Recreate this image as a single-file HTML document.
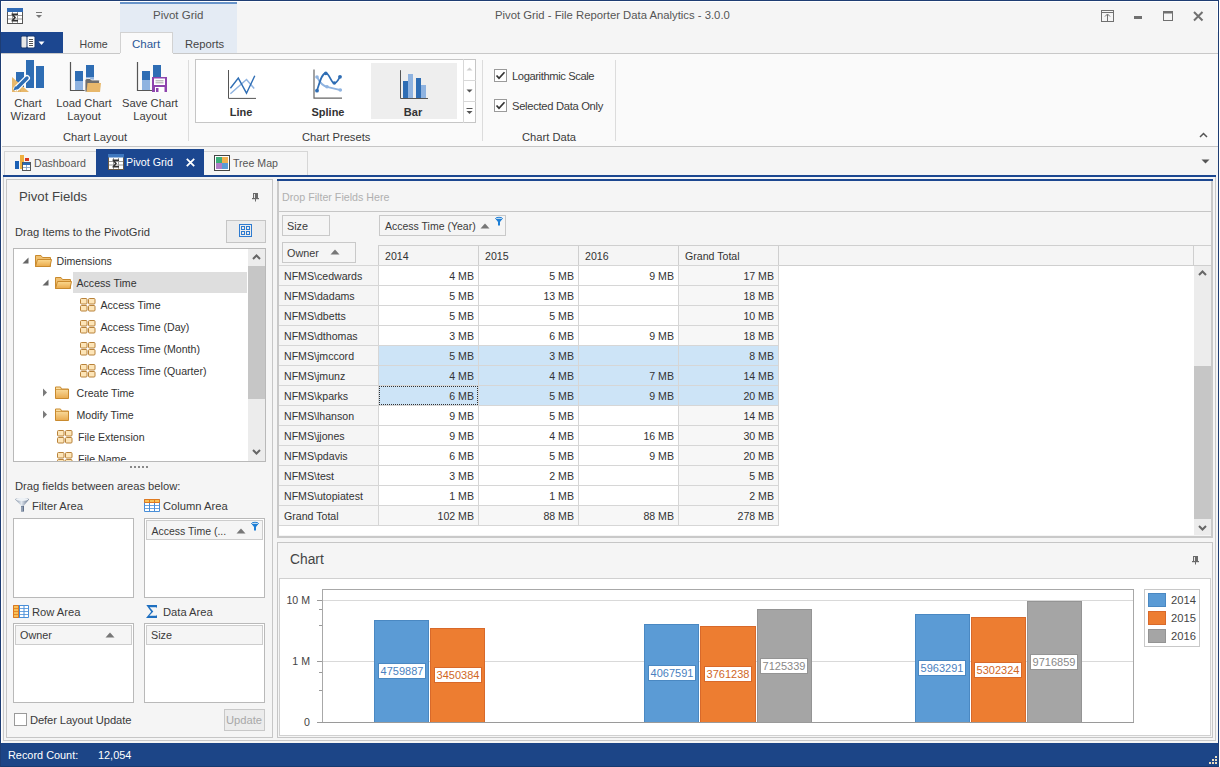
<!DOCTYPE html>
<html><head><meta charset="utf-8">
<style>
*{box-sizing:border-box;margin:0;padding:0}
html,body{width:1220px;height:767px;overflow:hidden}
body{position:relative;background:#f5f5f5;font-family:"Liberation Sans",sans-serif;font-size:11px;color:#3a3a3a}
.a{position:absolute}
.t{position:absolute;white-space:nowrap;line-height:1}
svg{position:absolute;overflow:visible}
.rc{color:#3f3f46}
.c{position:absolute;line-height:1;white-space:nowrap;text-align:center}
.cell{position:absolute;height:20px;line-height:20px;white-space:nowrap;font-size:10.2px;color:#333}
.r{text-align:right}
</style></head><body>

<!-- ===== TITLE BAR ===== -->
<div class="a" style="left:0;top:0;width:1220px;height:53px;background:#f5f5f5"></div>
<div class="a" style="left:120px;top:0;width:117px;height:53px;background:#e4ebf4"></div>
<div class="a" style="left:120px;top:1px;width:117px;height:3px;background:#6793c9"></div>
<div class="t" style="left:153px;top:10px;font-size:11.5px;color:#555">Pivot Grid</div>
<div class="t" style="left:495px;top:10px;font-size:11.3px;color:#555">Pivot Grid - File Reporter Data Analytics - 3.0.0</div>

<!-- app icon -->
<svg style="left:7px;top:8px" width="17" height="17" viewBox="0 0 17 17">
  <rect x="0.5" y="0.5" width="15" height="15" fill="#fff" stroke="#555"/>
  <rect x="0" y="0" width="16" height="4" fill="#2f6ab5"/>
  <path d="M1 7.5H15M1 11H15M5.5 4V15M10.5 4V15" stroke="#999" stroke-width="1"/>
  <path d="M4.5 5.5H11V7H7L9 9.5L7 12H11V13.5H4.5V12.5L7 9.5L4.5 6.5Z" fill="#333"/>
</svg>
<!-- qat customize -->
<svg style="left:35px;top:12px" width="8" height="7" viewBox="0 0 8 7">
  <path d="M1 0.5H7" stroke="#777" stroke-width="1"/>
  <path d="M1 3H7L4 6Z" fill="#777"/>
</svg>

<!-- window buttons -->
<svg style="left:1101px;top:10px" width="14" height="13" viewBox="0 0 14 13">
  <rect x="0.5" y="0.5" width="12" height="11" fill="none" stroke="#707070"/>
  <path d="M1 2.5H12" stroke="#707070"/>
  <path d="M6.5 4.5V11.5" stroke="#707070"/>
  <path d="M4 6.5L6.5 4L9 6.5" fill="none" stroke="#707070"/>
</svg>
<div class="a" style="left:1134px;top:16px;width:8px;height:3px;background:#707070"></div>
<svg style="left:1163px;top:11px" width="11" height="11" viewBox="0 0 11 11">
  <rect x="0.5" y="0.5" width="9" height="9" fill="none" stroke="#707070"/>
  <rect x="0" y="0" width="10" height="2.5" fill="#707070"/>
</svg>
<svg style="left:1193px;top:11px" width="11" height="11" viewBox="0 0 11 11">
  <path d="M1 1L9.5 9.5M9.5 1L1 9.5" stroke="#707070" stroke-width="2"/>
</svg>

<!-- file button -->
<div class="a" style="left:1px;top:32px;width:62px;height:21px;background:#1c4790"></div>
<svg style="left:20px;top:35px" width="26" height="15" viewBox="0 0 26 15">
  <rect x="0.5" y="0.5" width="15" height="13" rx="2" fill="#1a3a70"/>
  <rect x="1.5" y="1.5" width="5" height="11" rx="1" fill="#e8e8e8"/>
  <rect x="7.5" y="1.5" width="7" height="11" rx="1" fill="#fff"/>
  <path d="M9 4.5H13M9 6.5H13M9 8.5H13M9 10.5H13" stroke="#555" stroke-width="1"/>
  <path d="M18.5 6.5H24.5L21.5 10Z" fill="#fff"/>
</svg>

<!-- tabs -->
<div class="t" style="left:79.5px;top:39px;font-size:10.6px;color:#444">Home</div>
<div class="a" style="left:120px;top:32px;width:53px;height:22px;background:#fafafa;border:1px solid #d2d2d2;border-bottom:none"></div>
<div class="t" style="left:132px;top:39px;font-size:11.5px;color:#2b5797">Chart</div>
<div class="t" style="left:185px;top:39px;font-size:11.2px;color:#444">Reports</div>
<!-- ===== RIBBON ===== -->
<div class="a" style="left:1px;top:53px;width:1217px;height:94px;background:#fafafa;border-top:1px solid #c8c8c8;border-bottom:1px solid #c6c6c6"></div>
<div class="a" style="left:120px;top:53px;width:53px;height:1px;background:#fafafa"></div>
<div class="a" style="left:188px;top:60px;width:1px;height:81px;background:#dcdcdc"></div>
<div class="a" style="left:482px;top:60px;width:1px;height:81px;background:#dcdcdc"></div>
<div class="a" style="left:615px;top:60px;width:1px;height:81px;background:#dcdcdc"></div>

<!-- Chart Wizard icon -->
<svg style="left:11px;top:59px" width="34" height="34" viewBox="0 0 34 34">
  <rect x="5" y="13" width="8" height="15" fill="#2e6db4"/>
  <rect x="15" y="1" width="8" height="28" fill="#2e6db4"/>
  <rect x="25" y="7" width="8" height="22" fill="#2e6db4"/>
  <path d="M1 18V33H18Z" fill="#e8b86b"/>
  <path d="M5.5 29.5L16 19" stroke="#fff" stroke-width="6" stroke-linecap="round"/>
  <path d="M6.5 28.5L16 19" stroke="#2e6db4" stroke-width="3.4" stroke-linecap="round"/>
  <path d="M2.5 31.5L4 27L7 30Z" fill="#2e6db4"/>
  <path d="M5 32H11" stroke="#c99a4a" stroke-width="0.8" stroke-dasharray="1 1"/>
</svg>
<div class="c" style="left:0;width:56px;top:97px;font-size:11.2px;line-height:13px">Chart<br>Wizard</div>

<!-- Load Chart Layout icon -->
<svg style="left:69px;top:59px" width="34" height="34" viewBox="0 0 34 34">
  <path d="M1.5 3V31.5H20" fill="none" stroke="#555" stroke-width="1.2"/>
  <rect x="6" y="12" width="8" height="10" fill="#2e6db4"/>
  <rect x="6" y="22" width="8" height="9" fill="#8fb3e0"/>
  <rect x="17" y="6" width="8" height="12" fill="#2e6db4"/>
  <rect x="17" y="18" width="8" height="13" fill="#8fb3e0"/>
  <path d="M16 33V21.5Q16 19.5 18 19.5H21L22.5 21H29.5Q30.5 21 30.5 22V33Z" fill="#6e6e6e" stroke="#fafafa" stroke-width="0.8"/>
  <path d="M17.5 33L18.5 24H32L31 33Z" fill="#e8b86b"/>
</svg>
<div class="c" style="left:52px;width:64px;top:97px;font-size:11.2px;line-height:13px">Load Chart<br>Layout</div>

<!-- Save Chart Layout icon -->
<svg style="left:136px;top:59px" width="34" height="34" viewBox="0 0 34 34">
  <path d="M1.5 3V31.5H16" fill="none" stroke="#555" stroke-width="1.2"/>
  <rect x="6" y="12" width="8" height="9" fill="#2e6db4"/>
  <rect x="6" y="21" width="8" height="10" fill="#8fb3e0"/>
  <rect x="17" y="6" width="8" height="12" fill="#2e6db4"/>
  <rect x="17" y="18" width="8" height="13" fill="#8fb3e0"/>
  <rect x="16" y="18" width="15" height="15" fill="#8e44ad"/>
  <rect x="18" y="19.5" width="11" height="6.5" fill="#fff"/>
  <path d="M19.5 21.8H27.5M19.5 23.8H27.5" stroke="#9a9a9a" stroke-width="0.9"/>
  <rect x="19" y="28" width="9.5" height="5" fill="#fff"/>
  <rect x="20" y="29" width="2.5" height="4" fill="#8e44ad"/>
</svg>
<div class="c" style="left:118px;width:64px;top:97px;font-size:11.2px;line-height:13px">Save Chart<br>Layout</div>

<div class="t" style="left:63px;top:132px;font-size:11.2px">Chart Layout</div>

<!-- Gallery -->
<div class="a" style="left:195px;top:59px;width:281px;height:64px;background:#fff;border:1px solid #c6c6c6"></div>
<div class="a" style="left:371px;top:63px;width:86px;height:56px;background:#eeeeee"></div>
<div class="a" style="left:463px;top:59px;width:1px;height:64px;background:#d8d8d8"></div>
<div class="a" style="left:463px;top:80px;width:13px;height:1px;background:#d8d8d8"></div>
<div class="a" style="left:463px;top:101px;width:13px;height:1px;background:#d8d8d8"></div>
<svg style="left:466px;top:67px" width="7" height="4" viewBox="0 0 7 4"><path d="M0.5 3.5L3.5 0.5L6.5 3.5Z" fill="#cfcfcf"/></svg>
<svg style="left:466px;top:89px" width="7" height="4" viewBox="0 0 7 4"><path d="M0.5 0.5H6.5L3.5 3.5Z" fill="#555"/></svg>
<svg style="left:466px;top:108px" width="7" height="7" viewBox="0 0 7 7"><path d="M0.5 0.5H6.5" stroke="#555"/><path d="M0.5 3H6.5L3.5 6Z" fill="#555"/></svg>

<!-- Line icon -->
<svg style="left:227px;top:69px" width="31" height="31" viewBox="0 0 31 31">
  <path d="M1.5 1V29.4H29" fill="none" stroke="#555" stroke-width="1"/>
  <path d="M3.4 24.7L19.5 10.5L27.2 19.5" fill="none" stroke="#8fb3e0" stroke-width="1.5"/>
  <path d="M3.4 19.3L11.3 9.1L19.5 24.2L27.8 6.7" fill="none" stroke="#2e6db4" stroke-width="1.4"/>
</svg>
<div class="c" style="left:211px;width:60px;top:107px;font-size:11px;font-weight:bold;color:#333">Line</div>

<!-- Spline icon -->
<svg style="left:312px;top:69px" width="31" height="31" viewBox="0 0 31 31">
  <path d="M2 0.5V29.2H30" fill="none" stroke="#666" stroke-width="1.2"/>
  <path d="M5 8C8 14 11 17 15 17.8C20 19 24 20 28.3 21" fill="none" stroke="#8fb3e0" stroke-width="1.8"/>
  <circle cx="5" cy="8" r="1.8" fill="#8fb3e0"/><circle cx="15" cy="17.8" r="1.8" fill="#8fb3e0"/><circle cx="28.3" cy="21" r="1.8" fill="#8fb3e0"/>
  <path d="M5 21.7C8 12 10 4.2 13.8 4.2C17.5 4.2 19 14.1 22.3 14.1C25 14.1 26.5 10 28 7.8" fill="none" stroke="#2e6db4" stroke-width="1.7"/>
  <circle cx="5" cy="21.7" r="1.9" fill="#2e6db4"/><circle cx="13.8" cy="4.4" r="1.8" fill="#2e6db4"/><circle cx="22.3" cy="14" r="1.8" fill="#2e6db4"/><circle cx="28" cy="7.8" r="1.9" fill="#2e6db4"/>
</svg>
<div class="c" style="left:296px;width:64px;top:107px;font-size:11px;font-weight:bold;color:#333">Spline</div>

<!-- Bar icon -->
<svg style="left:399px;top:69px" width="31" height="31" viewBox="0 0 31 31">
  <path d="M1.5 1.2V29.5H29" fill="none" stroke="#555" stroke-width="1"/>
  <rect x="4" y="12" width="5" height="17" fill="#2e6db4"/>
  <rect x="9" y="5" width="5" height="24" fill="#8fb3e0"/>
  <rect x="17" y="9" width="5" height="20" fill="#2e6db4"/>
  <rect x="22" y="16" width="5" height="13" fill="#8fb3e0"/>
</svg>
<div class="c" style="left:383px;width:60px;top:107px;font-size:11px;font-weight:bold;color:#333">Bar</div>

<div class="t" style="left:302px;top:132px;font-size:11.2px">Chart Presets</div>

<!-- checkboxes -->
<svg style="left:494px;top:69px" width="13" height="13" viewBox="0 0 13 13">
  <rect x="0.5" y="0.5" width="12" height="12" fill="#fff" stroke="#9a9a9a"/>
  <path d="M2.5 6.5L5 9.2L10.5 3.2" fill="none" stroke="#333" stroke-width="1.7"/>
</svg>
<div class="t" style="left:512px;top:71px;font-size:11.2px;letter-spacing:-0.4px">Logarithmic Scale</div>
<svg style="left:494px;top:99px" width="13" height="13" viewBox="0 0 13 13">
  <rect x="0.5" y="0.5" width="12" height="12" fill="#fff" stroke="#9a9a9a"/>
  <path d="M2.5 6.5L5 9.2L10.5 3.2" fill="none" stroke="#333" stroke-width="1.7"/>
</svg>
<div class="t" style="left:512px;top:101px;font-size:11.2px;letter-spacing:-0.3px">Selected Data Only</div>
<div class="t" style="left:522px;top:132px;font-size:11.2px">Chart Data</div>

<!-- ribbon collapse -->
<svg style="left:1199px;top:132px" width="9" height="6" viewBox="0 0 9 6"><path d="M1 5L4.5 1.5L8 5" fill="none" stroke="#555" stroke-width="1.5"/></svg>
<!-- ===== DOC TABS ===== -->
<div class="a" style="left:4px;top:151px;width:93px;height:25px;background:#f5f5f5;border:1px solid #d6d6d6;border-bottom:none"></div>
<svg style="left:15px;top:155px" width="17" height="17" viewBox="0 0 17 17">
  <rect x="0" y="6" width="4" height="8" fill="#1a5fb4"/>
  <rect x="5" y="0" width="4" height="14" fill="#eeb040"/>
  <rect x="10" y="3" width="4" height="3" fill="#d8381f"/>
  <rect x="7.5" y="7.5" width="8" height="8" fill="#fff" stroke="#555"/>
  <rect x="8" y="7.5" width="7" height="2.5" fill="#2a6bb8"/>
  <path d="M11.5 10V15M8 12.5H15" stroke="#7a9ac0" stroke-width="0.8"/>
</svg>
<div class="t" style="left:34px;top:158px;font-size:10.6px;color:#555">Dashboard</div>

<div class="a" style="left:96px;top:149px;width:108px;height:27px;background:#1c4790"></div>
<svg style="left:108px;top:154px" width="17" height="17" viewBox="0 0 17 17">
  <rect x="0.5" y="0.5" width="15" height="15" fill="#fff" stroke="#6b5a45"/>
  <rect x="0" y="0" width="16" height="3.5" fill="#3f78bf"/>
  <path d="M1 7.5H15M1 11H15M5.5 4V15M10.5 4V15" stroke="#999" stroke-width="1"/>
  <path d="M4.5 5.5H11V7H7L9 9.5L7 12H11V13.5H4.5V12.5L7 9.5L4.5 6.5Z" fill="#333"/>
</svg>
<div class="t" style="left:126px;top:157px;font-size:10.7px;color:#fff">Pivot Grid</div>
<svg style="left:186px;top:158px" width="9" height="9" viewBox="0 0 9 9"><path d="M0.8 0.8L8.2 8.2M8.2 0.8L0.8 8.2" stroke="#fff" stroke-width="1.8"/></svg>

<div class="a" style="left:204px;top:151px;width:104px;height:25px;background:#f5f5f5;border:1px solid #d6d6d6;border-bottom:none;border-left:none"></div>
<svg style="left:214px;top:155px" width="17" height="17" viewBox="0 0 17 17">
  <rect x="0.5" y="0.5" width="15" height="15" fill="#fff" stroke="#444"/>
  <rect x="2" y="2" width="6" height="6" fill="#3cae7a"/>
  <rect x="8" y="2" width="6" height="6" fill="#f1b04f"/>
  <rect x="2" y="8" width="6" height="6" fill="#b07cc6"/>
  <rect x="8" y="8" width="6" height="6" fill="#5b9bd5"/>
</svg>
<div class="t" style="left:233px;top:158px;font-size:10.6px;color:#555">Tree Map</div>
<svg style="left:1201px;top:159px" width="9" height="5" viewBox="0 0 9 5"><path d="M0.5 0.5H8.5L4.5 4.5Z" fill="#555"/></svg>

<div class="a" style="left:3px;top:175px;width:1213px;height:566px;border:1px solid #cacaca;border-top:none;background:#f5f5f5"></div>
<div class="a" style="left:3px;top:175px;width:1213px;height:2px;background:#1c4790"></div>

<!-- ===== LEFT PANEL ===== -->
<div class="a" style="left:6px;top:179px;width:267px;height:559px;border:1px solid #c6c6c6;background:#f5f5f5"></div>
<div class="t" style="left:19px;top:190px;font-size:13.2px;color:#444">Pivot Fields</div>
<svg style="left:252px;top:193px" width="8" height="9" viewBox="0 0 8 9">
  <rect x="1.5" y="0.5" width="4" height="5" fill="#6a6a6a" stroke="#6a6a6a"/>
  <rect x="2" y="1" width="1" height="4" fill="#e8e8e8"/>
  <rect x="0" y="5" width="7" height="1.2" fill="#6a6a6a"/>
  <rect x="3" y="6" width="1" height="2.5" fill="#6a6a6a"/>
</svg>
<div class="t" style="left:15px;top:227px;font-size:11.2px">Drag Items to the PivotGrid</div>
<div class="a" style="left:226px;top:220px;width:40px;height:23px;background:#ececec;border:1px solid #c5c5c5"></div>
<svg style="left:239px;top:224px" width="13" height="13" viewBox="0 0 13 13">
  <rect x="0.5" y="0.5" width="12" height="12" fill="none" stroke="#2e7bd0"/>
  <rect x="2.5" y="2.5" width="3" height="3" fill="none" stroke="#2e7bd0"/>
  <rect x="7.5" y="2.5" width="3" height="3" fill="none" stroke="#2e7bd0"/>
  <rect x="2.5" y="7.5" width="3" height="3" fill="none" stroke="#2e7bd0"/>
  <rect x="7.5" y="7.5" width="3" height="3" fill="none" stroke="#2e7bd0"/>
</svg>

<!-- tree -->
<div class="a" style="left:13px;top:248px;width:253px;height:214px;background:#fff;border:1px solid #b9b9b9;overflow:hidden">
  <div class="a" style="left:234px;top:0;width:17px;height:212px;background:#ececec"></div>
  <div class="a" style="left:234px;top:17px;width:17px;height:133px;background:#c6c6c6"></div>
  <svg style="left:238px;top:5px" width="9" height="6" viewBox="0 0 9 6"><path d="M1 5L4.5 1.5L8 5" fill="none" stroke="#666" stroke-width="2"/></svg>
  <svg style="left:238px;top:200px" width="9" height="6" viewBox="0 0 9 6"><path d="M1 1L4.5 4.5L8 1" fill="none" stroke="#666" stroke-width="2"/></svg>
  <div class="a" style="left:59px;top:23px;width:174px;height:21px;background:#dedede"></div>
</div>
<div class="a" style="left:14px;top:249px;width:234px;height:212px;overflow:hidden">
<svg style="left:8px;top:8px" width="7" height="7" viewBox="0 0 7 7"><path d="M6.5 0.5V6.5H0.5Z" fill="#666"/></svg>
<svg style="left:21px;top:5px" width="17" height="13" viewBox="0 0 17 13">
  <defs><linearGradient id="fg215" x1="0" y1="0" x2="0" y2="1"><stop offset="0" stop-color="#fbd990"/><stop offset="1" stop-color="#e9a94a"/></linearGradient></defs>
  <path d="M0.5 1.5V12.5H15.5V3.5H7.5L6 1.5Z" fill="#f0c070" stroke="#c98a2e"/>
  <path d="M0.5 12.5L2.5 5.5H16.5L15 12.5Z" fill="url(#fg215)" stroke="#c98a2e"/>
</svg>
<div class="t" style="left:42.5px;top:7px;font-size:10.6px;color:#333">Dimensions</div>
<svg style="left:28px;top:30px" width="7" height="7" viewBox="0 0 7 7"><path d="M6.5 0.5V6.5H0.5Z" fill="#666"/></svg>
<svg style="left:41px;top:27px" width="17" height="13" viewBox="0 0 17 13">
  <defs><linearGradient id="fg4127" x1="0" y1="0" x2="0" y2="1"><stop offset="0" stop-color="#fbd990"/><stop offset="1" stop-color="#e9a94a"/></linearGradient></defs>
  <path d="M0.5 1.5V12.5H15.5V3.5H7.5L6 1.5Z" fill="#f0c070" stroke="#c98a2e"/>
  <path d="M0.5 12.5L2.5 5.5H16.5L15 12.5Z" fill="url(#fg4127)" stroke="#c98a2e"/>
</svg>
<div class="t" style="left:62.5px;top:29px;font-size:10.6px;color:#333">Access Time</div>
<svg style="left:66px;top:49px" width="16" height="14" viewBox="0 0 16 14"><rect x="0.5" y="0.5" width="6.5" height="5.5" rx="1" fill="#fde5b8" stroke="#b8823a"/><rect x="8.5" y="0.5" width="6.5" height="5.5" rx="1" fill="#fde5b8" stroke="#b8823a"/><rect x="0.5" y="7.5" width="6.5" height="5.5" rx="1" fill="#fde5b8" stroke="#b8823a"/><rect x="8.5" y="7.5" width="6.5" height="5.5" rx="1" fill="#fde5b8" stroke="#b8823a"/></svg>
<div class="t" style="left:86.5px;top:51px;font-size:10.6px;color:#333">Access Time</div>
<svg style="left:66px;top:71px" width="16" height="14" viewBox="0 0 16 14"><rect x="0.5" y="0.5" width="6.5" height="5.5" rx="1" fill="#fde5b8" stroke="#b8823a"/><rect x="8.5" y="0.5" width="6.5" height="5.5" rx="1" fill="#fde5b8" stroke="#b8823a"/><rect x="0.5" y="7.5" width="6.5" height="5.5" rx="1" fill="#fde5b8" stroke="#b8823a"/><rect x="8.5" y="7.5" width="6.5" height="5.5" rx="1" fill="#fde5b8" stroke="#b8823a"/></svg>
<div class="t" style="left:86.5px;top:73px;font-size:10.6px;color:#333">Access Time (Day)</div>
<svg style="left:66px;top:93px" width="16" height="14" viewBox="0 0 16 14"><rect x="0.5" y="0.5" width="6.5" height="5.5" rx="1" fill="#fde5b8" stroke="#b8823a"/><rect x="8.5" y="0.5" width="6.5" height="5.5" rx="1" fill="#fde5b8" stroke="#b8823a"/><rect x="0.5" y="7.5" width="6.5" height="5.5" rx="1" fill="#fde5b8" stroke="#b8823a"/><rect x="8.5" y="7.5" width="6.5" height="5.5" rx="1" fill="#fde5b8" stroke="#b8823a"/></svg>
<div class="t" style="left:86.5px;top:95px;font-size:10.6px;color:#333">Access Time (Month)</div>
<svg style="left:66px;top:115px" width="16" height="14" viewBox="0 0 16 14"><rect x="0.5" y="0.5" width="6.5" height="5.5" rx="1" fill="#fde5b8" stroke="#b8823a"/><rect x="8.5" y="0.5" width="6.5" height="5.5" rx="1" fill="#fde5b8" stroke="#b8823a"/><rect x="0.5" y="7.5" width="6.5" height="5.5" rx="1" fill="#fde5b8" stroke="#b8823a"/><rect x="8.5" y="7.5" width="6.5" height="5.5" rx="1" fill="#fde5b8" stroke="#b8823a"/></svg>
<div class="t" style="left:86.5px;top:117px;font-size:10.6px;color:#333">Access Time (Quarter)</div>
<svg style="left:28px;top:139px" width="6" height="9" viewBox="0 0 6 9"><path d="M1 0.5L5 4.5L1 8.5Z" fill="#7a7a7a"/></svg>
<svg style="left:41px;top:137px" width="15" height="13" viewBox="0 0 15 13">
  <defs><linearGradient id="cg41137" x1="0" y1="0" x2="0" y2="1"><stop offset="0" stop-color="#fde6ae"/><stop offset="1" stop-color="#e9aa4e"/></linearGradient></defs>
  <path d="M0.5 1V12.5H13.5V3H6.5L5.5 1Z" fill="url(#cg41137)" stroke="#c98a2e"/>
  <path d="M1 3.5H13" stroke="#c98a2e" stroke-width="0.7"/>
</svg>
<div class="t" style="left:62.5px;top:139px;font-size:10.6px;color:#333">Create Time</div>
<svg style="left:28px;top:161px" width="6" height="9" viewBox="0 0 6 9"><path d="M1 0.5L5 4.5L1 8.5Z" fill="#7a7a7a"/></svg>
<svg style="left:41px;top:159px" width="15" height="13" viewBox="0 0 15 13">
  <defs><linearGradient id="cg41159" x1="0" y1="0" x2="0" y2="1"><stop offset="0" stop-color="#fde6ae"/><stop offset="1" stop-color="#e9aa4e"/></linearGradient></defs>
  <path d="M0.5 1V12.5H13.5V3H6.5L5.5 1Z" fill="url(#cg41159)" stroke="#c98a2e"/>
  <path d="M1 3.5H13" stroke="#c98a2e" stroke-width="0.7"/>
</svg>
<div class="t" style="left:62.5px;top:161px;font-size:10.6px;color:#333">Modify Time</div>
<svg style="left:43px;top:181px" width="16" height="14" viewBox="0 0 16 14"><rect x="0.5" y="0.5" width="6.5" height="5.5" rx="1" fill="#fde5b8" stroke="#b8823a"/><rect x="8.5" y="0.5" width="6.5" height="5.5" rx="1" fill="#fde5b8" stroke="#b8823a"/><rect x="0.5" y="7.5" width="6.5" height="5.5" rx="1" fill="#fde5b8" stroke="#b8823a"/><rect x="8.5" y="7.5" width="6.5" height="5.5" rx="1" fill="#fde5b8" stroke="#b8823a"/></svg>
<div class="t" style="left:64.0px;top:183px;font-size:10.6px;color:#333">File Extension</div>
<svg style="left:43px;top:203px" width="16" height="14" viewBox="0 0 16 14"><rect x="0.5" y="0.5" width="6.5" height="5.5" rx="1" fill="#fde5b8" stroke="#b8823a"/><rect x="8.5" y="0.5" width="6.5" height="5.5" rx="1" fill="#fde5b8" stroke="#b8823a"/><rect x="0.5" y="7.5" width="6.5" height="5.5" rx="1" fill="#fde5b8" stroke="#b8823a"/><rect x="8.5" y="7.5" width="6.5" height="5.5" rx="1" fill="#fde5b8" stroke="#b8823a"/></svg>
<div class="t" style="left:64.0px;top:205px;font-size:10.6px;color:#333">File Name</div>
</div>
<!-- splitter dots -->
<svg style="left:130px;top:466px" width="19" height="3" viewBox="0 0 19 3">
  <rect x="0" y="0" width="2" height="2" fill="#888"/><rect x="4" y="0" width="2" height="2" fill="#888"/><rect x="8" y="0" width="2" height="2" fill="#888"/><rect x="12" y="0" width="2" height="2" fill="#888"/><rect x="16" y="0" width="2" height="2" fill="#888"/>
</svg>
<div class="t" style="left:15px;top:481px;font-size:11.2px">Drag fields between areas below:</div>

<!-- Filter area -->
<svg style="left:15px;top:497px" width="15" height="15" viewBox="0 0 15 15">
  <defs><linearGradient id="fn" x1="0" y1="0" x2="1" y2="0"><stop offset="0" stop-color="#7b8ba0"/><stop offset="0.45" stop-color="#e2e8ef"/><stop offset="1" stop-color="#5f708a"/></linearGradient></defs>
  <path d="M0.2 2.5C0.2 0.5 14 0.5 14 2.5L9 8.5V14.5H6V8.5Z" fill="url(#fn)"/>
  <ellipse cx="7.1" cy="2.4" rx="6.2" ry="1.6" fill="#eef2f6"/>
  <path d="M6 9H9V14.5H6Z" fill="#5f708a"/>
  <path d="M7 9.5V14" stroke="#dde4ec" stroke-width="0.8"/>
</svg>
<div class="t" style="left:32px;top:501px;font-size:11.2px">Filter Area</div>
<div class="a" style="left:13px;top:518px;width:121px;height:80px;background:#fff;border:1px solid #b9b9b9"></div>

<!-- Column area -->
<svg style="left:144px;top:499px" width="16" height="13" viewBox="0 0 16 13">
  <rect x="0" y="0" width="16" height="13" rx="1" fill="#4a8fd8"/>
  <rect x="0" y="0" width="16" height="4" rx="1" fill="#e07a1f"/>
  <rect x="1" y="1" width="4" height="2" fill="#f7c25a"/><rect x="6" y="1" width="4" height="2" fill="#f7c25a"/><rect x="11" y="1" width="4" height="2" fill="#f7c25a"/>
  <rect x="1" y="4" width="4" height="2.2" fill="#fff"/><rect x="6" y="4" width="4" height="2.2" fill="#fff"/><rect x="11" y="4" width="4" height="2.2" fill="#fff"/>
  <rect x="1" y="7" width="4" height="2.2" fill="#fff"/><rect x="6" y="7" width="4" height="2.2" fill="#fff"/><rect x="11" y="7" width="4" height="2.2" fill="#fff"/>
  <rect x="1" y="10" width="4" height="2" fill="#fff"/><rect x="6" y="10" width="4" height="2" fill="#fff"/><rect x="11" y="10" width="4" height="2" fill="#fff"/>
</svg>
<div class="t" style="left:163px;top:501px;font-size:11.2px">Column Area</div>
<div class="a" style="left:144px;top:518px;width:121px;height:80px;background:#fff;border:1px solid #b9b9b9"></div>
<div class="a" style="left:146px;top:520px;width:117px;height:20px;background:#f5f5f5;border:1px solid #cdcdcd"></div>
<div class="t" style="left:151.5px;top:525.5px;font-size:10.5px">Access Time (...</div>
<svg style="left:236px;top:528px" width="10" height="6" viewBox="0 0 10 6"><path d="M0.5 5.5L5 0.5L9.5 5.5Z" fill="#777"/></svg>
<svg style="left:251px;top:522px" width="8" height="9" viewBox="0 0 8 9"><ellipse cx="4" cy="1.5" rx="3.5" ry="1.2" fill="none" stroke="#1e7fd6" stroke-width="1"/><path d="M0.5 1.8L3 5V8.5H5V5L7.5 1.8" fill="#1e7fd6"/></svg>

<!-- Row area -->
<svg style="left:13px;top:605px" width="16" height="13" viewBox="0 0 16 13">
  <rect x="0" y="0" width="16" height="13" rx="1" fill="#4a8fd8"/>
  <rect x="0" y="0" width="6" height="13" rx="1" fill="#e07a1f"/>
  <rect x="1" y="1" width="4" height="2.2" fill="#f7c25a"/><rect x="1" y="4" width="4" height="2.2" fill="#f7c25a"/><rect x="1" y="7" width="4" height="2.2" fill="#f7c25a"/><rect x="1" y="10" width="4" height="2" fill="#f7c25a"/>
  <rect x="7" y="1" width="3.5" height="2.2" fill="#fff"/><rect x="11.5" y="1" width="3.5" height="2.2" fill="#fff"/>
  <rect x="7" y="4" width="3.5" height="2.2" fill="#fff"/><rect x="11.5" y="4" width="3.5" height="2.2" fill="#fff"/>
  <rect x="7" y="7" width="3.5" height="2.2" fill="#fff"/><rect x="11.5" y="7" width="3.5" height="2.2" fill="#fff"/>
  <rect x="7" y="10" width="3.5" height="2" fill="#fff"/><rect x="11.5" y="10" width="3.5" height="2" fill="#fff"/>
</svg>
<div class="t" style="left:32px;top:607px;font-size:11.2px">Row Area</div>
<div class="a" style="left:13px;top:623px;width:121px;height:80px;background:#fff;border:1px solid #b9b9b9"></div>
<div class="a" style="left:15px;top:625px;width:117px;height:20px;background:#f5f5f5;border:1px solid #cdcdcd"></div>
<div class="t" style="left:20px;top:630px;font-size:10.8px">Owner</div>
<svg style="left:105px;top:632px" width="10" height="6" viewBox="0 0 10 6"><path d="M0.5 5.5L5 0.5L9.5 5.5Z" fill="#777"/></svg>

<!-- Data area -->
<svg style="left:146px;top:605px" width="12" height="13" viewBox="0 0 12 13">
  <path d="M0.3 0H11V3.2L10.3 2.2H3.6L7.3 6.5L3.3 10.8H10.3L11 9.8V13H0L5.2 6.8Z" fill="#1e6fc0"/>
</svg>
<div class="t" style="left:163px;top:607px;font-size:11.2px">Data Area</div>
<div class="a" style="left:144px;top:623px;width:121px;height:80px;background:#fff;border:1px solid #b9b9b9"></div>
<div class="a" style="left:146px;top:625px;width:117px;height:20px;background:#f5f5f5;border:1px solid #cdcdcd"></div>
<div class="t" style="left:151px;top:630px;font-size:10.8px">Size</div>

<!-- defer -->
<div class="a" style="left:14px;top:713px;width:13px;height:13px;background:#fff;border:1px solid #9a9a9a"></div>
<div class="t" style="left:30px;top:715px;font-size:11.2px;letter-spacing:-0.1px">Defer Layout Update</div>
<div class="a" style="left:224px;top:709px;width:41px;height:22px;background:#ececec;border:1px solid #c8c8c8"></div>
<div class="t" style="left:226px;top:715px;font-size:11.2px;color:#a8a8a8">Update</div>
<!-- ===== GRID ===== -->
<div class="a" style="left:277px;top:179px;width:936px;height:2px;background:#1c4790"></div>
<div class="a" style="left:277px;top:181px;width:936px;height:357px;background:#f5f5f5;border:2px solid #c9c9c9;border-top:none"></div>
<div class="t" style="left:282px;top:192px;font-size:10.7px;color:#b0b0b0">Drop Filter Fields Here</div>
<div class="a" style="left:279px;top:211px;width:932px;height:1px;background:#c6c6c6"></div>
<div class="a" style="left:282px;top:215px;width:48px;height:21px;border:1px solid #c9c9c9;background:#f5f5f5"></div>
<div class="t" style="left:287px;top:221px;font-size:10.8px">Size</div>
<div class="a" style="left:379px;top:215px;width:127px;height:21px;border:1px solid #c9c9c9;background:#f5f5f5"></div>
<div class="t" style="left:385px;top:221px;font-size:10.5px">Access Time (Year)</div>
<svg style="left:480px;top:223px" width="10" height="6" viewBox="0 0 10 6"><path d="M0.5 5.5L5 0.5L9.5 5.5Z" fill="#777"/></svg>
<svg style="left:495px;top:217px" width="8" height="9" viewBox="0 0 8 9"><ellipse cx="4" cy="1.5" rx="3.5" ry="1.2" fill="none" stroke="#1e7fd6" stroke-width="1"/><path d="M0.5 1.8L3 5V8.5H5V5L7.5 1.8" fill="#1e7fd6"/></svg>
<div class="a" style="left:282px;top:242px;width:74px;height:21px;border:1px solid #c9c9c9;background:#f5f5f5"></div>
<div class="t" style="left:287px;top:248px;font-size:10.8px">Owner</div>
<svg style="left:330px;top:249px" width="10" height="6" viewBox="0 0 10 6"><path d="M0.5 5.5L5 0.5L9.5 5.5Z" fill="#777"/></svg>
<div class="a" style="left:378px;top:245px;width:833px;height:21px;background:#f5f5f5;border-top:1px solid #cfcfcf;border-bottom:1px solid #cfcfcf"></div>
<div class="a" style="left:378px;top:245px;width:1px;height:21px;background:#cfcfcf"></div>
<div class="a" style="left:478px;top:245px;width:1px;height:21px;background:#cfcfcf"></div>
<div class="a" style="left:578px;top:245px;width:1px;height:21px;background:#cfcfcf"></div>
<div class="a" style="left:678px;top:245px;width:1px;height:21px;background:#cfcfcf"></div>
<div class="a" style="left:778px;top:245px;width:1px;height:21px;background:#cfcfcf"></div>
<div class="a" style="left:1193px;top:245px;width:1px;height:21px;background:#cfcfcf"></div>
<div class="t" style="left:385px;top:251px;font-size:10.6px;color:#333">2014</div>
<div class="t" style="left:485px;top:251px;font-size:10.6px;color:#333">2015</div>
<div class="t" style="left:585px;top:251px;font-size:10.6px;color:#333">2016</div>
<div class="t" style="left:685px;top:251px;font-size:10.6px;color:#333">Grand Total</div>
<div class="a" style="left:279px;top:266px;width:915px;height:269px;background:#fff"></div>
<div class="a" style="left:279px;top:265px;width:99px;height:21px;background:#f5f5f5;border-bottom:1px solid #d6d6d6;border-top:1px solid #d6d6d6"></div>
<div class="t" style="left:284px;top:271px;font-size:10.6px;color:#333">NFMS\cedwards</div>
<div class="a" style="left:378px;top:265px;width:101px;height:21px;background:#fff;border:1px solid #d6d6d6"></div>
<div class="t r" style="left:378px;width:96px;top:271px;font-size:10.6px;color:#333">4 MB</div>
<div class="a" style="left:478px;top:265px;width:101px;height:21px;background:#fff;border:1px solid #d6d6d6"></div>
<div class="t r" style="left:478px;width:96px;top:271px;font-size:10.6px;color:#333">5 MB</div>
<div class="a" style="left:578px;top:265px;width:101px;height:21px;background:#fff;border:1px solid #d6d6d6"></div>
<div class="t r" style="left:578px;width:96px;top:271px;font-size:10.6px;color:#333">9 MB</div>
<div class="a" style="left:678px;top:265px;width:101px;height:21px;background:#f7f7f7;border:1px solid #d6d6d6"></div>
<div class="t r" style="left:678px;width:96px;top:271px;font-size:10.6px;color:#333">17 MB</div>
<div class="a" style="left:279px;top:285px;width:99px;height:21px;background:#f5f5f5;border-bottom:1px solid #d6d6d6;border-top:1px solid #d6d6d6"></div>
<div class="t" style="left:284px;top:291px;font-size:10.6px;color:#333">NFMS\dadams</div>
<div class="a" style="left:378px;top:285px;width:101px;height:21px;background:#fff;border:1px solid #d6d6d6"></div>
<div class="t r" style="left:378px;width:96px;top:291px;font-size:10.6px;color:#333">5 MB</div>
<div class="a" style="left:478px;top:285px;width:101px;height:21px;background:#fff;border:1px solid #d6d6d6"></div>
<div class="t r" style="left:478px;width:96px;top:291px;font-size:10.6px;color:#333">13 MB</div>
<div class="a" style="left:578px;top:285px;width:101px;height:21px;background:#fff;border:1px solid #d6d6d6"></div>
<div class="a" style="left:678px;top:285px;width:101px;height:21px;background:#f7f7f7;border:1px solid #d6d6d6"></div>
<div class="t r" style="left:678px;width:96px;top:291px;font-size:10.6px;color:#333">18 MB</div>
<div class="a" style="left:279px;top:305px;width:99px;height:21px;background:#f5f5f5;border-bottom:1px solid #d6d6d6;border-top:1px solid #d6d6d6"></div>
<div class="t" style="left:284px;top:311px;font-size:10.6px;color:#333">NFMS\dbetts</div>
<div class="a" style="left:378px;top:305px;width:101px;height:21px;background:#fff;border:1px solid #d6d6d6"></div>
<div class="t r" style="left:378px;width:96px;top:311px;font-size:10.6px;color:#333">5 MB</div>
<div class="a" style="left:478px;top:305px;width:101px;height:21px;background:#fff;border:1px solid #d6d6d6"></div>
<div class="t r" style="left:478px;width:96px;top:311px;font-size:10.6px;color:#333">5 MB</div>
<div class="a" style="left:578px;top:305px;width:101px;height:21px;background:#fff;border:1px solid #d6d6d6"></div>
<div class="a" style="left:678px;top:305px;width:101px;height:21px;background:#f7f7f7;border:1px solid #d6d6d6"></div>
<div class="t r" style="left:678px;width:96px;top:311px;font-size:10.6px;color:#333">10 MB</div>
<div class="a" style="left:279px;top:325px;width:99px;height:21px;background:#f5f5f5;border-bottom:1px solid #d6d6d6;border-top:1px solid #d6d6d6"></div>
<div class="t" style="left:284px;top:331px;font-size:10.6px;color:#333">NFMS\dthomas</div>
<div class="a" style="left:378px;top:325px;width:101px;height:21px;background:#fff;border:1px solid #d6d6d6"></div>
<div class="t r" style="left:378px;width:96px;top:331px;font-size:10.6px;color:#333">3 MB</div>
<div class="a" style="left:478px;top:325px;width:101px;height:21px;background:#fff;border:1px solid #d6d6d6"></div>
<div class="t r" style="left:478px;width:96px;top:331px;font-size:10.6px;color:#333">6 MB</div>
<div class="a" style="left:578px;top:325px;width:101px;height:21px;background:#fff;border:1px solid #d6d6d6"></div>
<div class="t r" style="left:578px;width:96px;top:331px;font-size:10.6px;color:#333">9 MB</div>
<div class="a" style="left:678px;top:325px;width:101px;height:21px;background:#f7f7f7;border:1px solid #d6d6d6"></div>
<div class="t r" style="left:678px;width:96px;top:331px;font-size:10.6px;color:#333">18 MB</div>
<div class="a" style="left:279px;top:345px;width:99px;height:21px;background:#f5f5f5;border-bottom:1px solid #d6d6d6;border-top:1px solid #d6d6d6"></div>
<div class="t" style="left:284px;top:351px;font-size:10.6px;color:#333">NFMS\jmccord</div>
<div class="a" style="left:378px;top:345px;width:101px;height:21px;background:#cde4f7;border:1px solid #d6d6d6"></div>
<div class="t r" style="left:378px;width:96px;top:351px;font-size:10.6px;color:#333">5 MB</div>
<div class="a" style="left:478px;top:345px;width:101px;height:21px;background:#cde4f7;border:1px solid #d6d6d6"></div>
<div class="t r" style="left:478px;width:96px;top:351px;font-size:10.6px;color:#333">3 MB</div>
<div class="a" style="left:578px;top:345px;width:101px;height:21px;background:#cde4f7;border:1px solid #d6d6d6"></div>
<div class="a" style="left:678px;top:345px;width:101px;height:21px;background:#cde4f7;border:1px solid #d6d6d6"></div>
<div class="t r" style="left:678px;width:96px;top:351px;font-size:10.6px;color:#333">8 MB</div>
<div class="a" style="left:279px;top:365px;width:99px;height:21px;background:#f5f5f5;border-bottom:1px solid #d6d6d6;border-top:1px solid #d6d6d6"></div>
<div class="t" style="left:284px;top:371px;font-size:10.6px;color:#333">NFMS\jmunz</div>
<div class="a" style="left:378px;top:365px;width:101px;height:21px;background:#cde4f7;border:1px solid #d6d6d6"></div>
<div class="t r" style="left:378px;width:96px;top:371px;font-size:10.6px;color:#333">4 MB</div>
<div class="a" style="left:478px;top:365px;width:101px;height:21px;background:#cde4f7;border:1px solid #d6d6d6"></div>
<div class="t r" style="left:478px;width:96px;top:371px;font-size:10.6px;color:#333">4 MB</div>
<div class="a" style="left:578px;top:365px;width:101px;height:21px;background:#cde4f7;border:1px solid #d6d6d6"></div>
<div class="t r" style="left:578px;width:96px;top:371px;font-size:10.6px;color:#333">7 MB</div>
<div class="a" style="left:678px;top:365px;width:101px;height:21px;background:#cde4f7;border:1px solid #d6d6d6"></div>
<div class="t r" style="left:678px;width:96px;top:371px;font-size:10.6px;color:#333">14 MB</div>
<div class="a" style="left:279px;top:385px;width:99px;height:21px;background:#f5f5f5;border-bottom:1px solid #d6d6d6;border-top:1px solid #d6d6d6"></div>
<div class="t" style="left:284px;top:391px;font-size:10.6px;color:#333">NFMS\kparks</div>
<div class="a" style="left:378px;top:385px;width:101px;height:21px;background:#cde4f7;border:1px solid #d6d6d6"></div>
<div class="t r" style="left:378px;width:96px;top:391px;font-size:10.6px;color:#333">6 MB</div>
<div class="a" style="left:478px;top:385px;width:101px;height:21px;background:#cde4f7;border:1px solid #d6d6d6"></div>
<div class="t r" style="left:478px;width:96px;top:391px;font-size:10.6px;color:#333">5 MB</div>
<div class="a" style="left:578px;top:385px;width:101px;height:21px;background:#cde4f7;border:1px solid #d6d6d6"></div>
<div class="t r" style="left:578px;width:96px;top:391px;font-size:10.6px;color:#333">9 MB</div>
<div class="a" style="left:678px;top:385px;width:101px;height:21px;background:#cde4f7;border:1px solid #d6d6d6"></div>
<div class="t r" style="left:678px;width:96px;top:391px;font-size:10.6px;color:#333">20 MB</div>
<div class="a" style="left:279px;top:405px;width:99px;height:21px;background:#f5f5f5;border-bottom:1px solid #d6d6d6;border-top:1px solid #d6d6d6"></div>
<div class="t" style="left:284px;top:411px;font-size:10.6px;color:#333">NFMS\lhanson</div>
<div class="a" style="left:378px;top:405px;width:101px;height:21px;background:#fff;border:1px solid #d6d6d6"></div>
<div class="t r" style="left:378px;width:96px;top:411px;font-size:10.6px;color:#333">9 MB</div>
<div class="a" style="left:478px;top:405px;width:101px;height:21px;background:#fff;border:1px solid #d6d6d6"></div>
<div class="t r" style="left:478px;width:96px;top:411px;font-size:10.6px;color:#333">5 MB</div>
<div class="a" style="left:578px;top:405px;width:101px;height:21px;background:#fff;border:1px solid #d6d6d6"></div>
<div class="a" style="left:678px;top:405px;width:101px;height:21px;background:#f7f7f7;border:1px solid #d6d6d6"></div>
<div class="t r" style="left:678px;width:96px;top:411px;font-size:10.6px;color:#333">14 MB</div>
<div class="a" style="left:279px;top:425px;width:99px;height:21px;background:#f5f5f5;border-bottom:1px solid #d6d6d6;border-top:1px solid #d6d6d6"></div>
<div class="t" style="left:284px;top:431px;font-size:10.6px;color:#333">NFMS\jjones</div>
<div class="a" style="left:378px;top:425px;width:101px;height:21px;background:#fff;border:1px solid #d6d6d6"></div>
<div class="t r" style="left:378px;width:96px;top:431px;font-size:10.6px;color:#333">9 MB</div>
<div class="a" style="left:478px;top:425px;width:101px;height:21px;background:#fff;border:1px solid #d6d6d6"></div>
<div class="t r" style="left:478px;width:96px;top:431px;font-size:10.6px;color:#333">4 MB</div>
<div class="a" style="left:578px;top:425px;width:101px;height:21px;background:#fff;border:1px solid #d6d6d6"></div>
<div class="t r" style="left:578px;width:96px;top:431px;font-size:10.6px;color:#333">16 MB</div>
<div class="a" style="left:678px;top:425px;width:101px;height:21px;background:#f7f7f7;border:1px solid #d6d6d6"></div>
<div class="t r" style="left:678px;width:96px;top:431px;font-size:10.6px;color:#333">30 MB</div>
<div class="a" style="left:279px;top:445px;width:99px;height:21px;background:#f5f5f5;border-bottom:1px solid #d6d6d6;border-top:1px solid #d6d6d6"></div>
<div class="t" style="left:284px;top:451px;font-size:10.6px;color:#333">NFMS\pdavis</div>
<div class="a" style="left:378px;top:445px;width:101px;height:21px;background:#fff;border:1px solid #d6d6d6"></div>
<div class="t r" style="left:378px;width:96px;top:451px;font-size:10.6px;color:#333">6 MB</div>
<div class="a" style="left:478px;top:445px;width:101px;height:21px;background:#fff;border:1px solid #d6d6d6"></div>
<div class="t r" style="left:478px;width:96px;top:451px;font-size:10.6px;color:#333">5 MB</div>
<div class="a" style="left:578px;top:445px;width:101px;height:21px;background:#fff;border:1px solid #d6d6d6"></div>
<div class="t r" style="left:578px;width:96px;top:451px;font-size:10.6px;color:#333">9 MB</div>
<div class="a" style="left:678px;top:445px;width:101px;height:21px;background:#f7f7f7;border:1px solid #d6d6d6"></div>
<div class="t r" style="left:678px;width:96px;top:451px;font-size:10.6px;color:#333">20 MB</div>
<div class="a" style="left:279px;top:465px;width:99px;height:21px;background:#f5f5f5;border-bottom:1px solid #d6d6d6;border-top:1px solid #d6d6d6"></div>
<div class="t" style="left:284px;top:471px;font-size:10.6px;color:#333">NFMS\test</div>
<div class="a" style="left:378px;top:465px;width:101px;height:21px;background:#fff;border:1px solid #d6d6d6"></div>
<div class="t r" style="left:378px;width:96px;top:471px;font-size:10.6px;color:#333">3 MB</div>
<div class="a" style="left:478px;top:465px;width:101px;height:21px;background:#fff;border:1px solid #d6d6d6"></div>
<div class="t r" style="left:478px;width:96px;top:471px;font-size:10.6px;color:#333">2 MB</div>
<div class="a" style="left:578px;top:465px;width:101px;height:21px;background:#fff;border:1px solid #d6d6d6"></div>
<div class="a" style="left:678px;top:465px;width:101px;height:21px;background:#f7f7f7;border:1px solid #d6d6d6"></div>
<div class="t r" style="left:678px;width:96px;top:471px;font-size:10.6px;color:#333">5 MB</div>
<div class="a" style="left:279px;top:485px;width:99px;height:21px;background:#f5f5f5;border-bottom:1px solid #d6d6d6;border-top:1px solid #d6d6d6"></div>
<div class="t" style="left:284px;top:491px;font-size:10.6px;color:#333">NFMS\utopiatest</div>
<div class="a" style="left:378px;top:485px;width:101px;height:21px;background:#fff;border:1px solid #d6d6d6"></div>
<div class="t r" style="left:378px;width:96px;top:491px;font-size:10.6px;color:#333">1 MB</div>
<div class="a" style="left:478px;top:485px;width:101px;height:21px;background:#fff;border:1px solid #d6d6d6"></div>
<div class="t r" style="left:478px;width:96px;top:491px;font-size:10.6px;color:#333">1 MB</div>
<div class="a" style="left:578px;top:485px;width:101px;height:21px;background:#fff;border:1px solid #d6d6d6"></div>
<div class="a" style="left:678px;top:485px;width:101px;height:21px;background:#f7f7f7;border:1px solid #d6d6d6"></div>
<div class="t r" style="left:678px;width:96px;top:491px;font-size:10.6px;color:#333">2 MB</div>
<div class="a" style="left:279px;top:505px;width:99px;height:21px;background:#f5f5f5;border-bottom:1px solid #d6d6d6;border-top:1px solid #d6d6d6"></div>
<div class="t" style="left:284px;top:511px;font-size:10.6px;color:#333">Grand Total</div>
<div class="a" style="left:378px;top:505px;width:101px;height:21px;background:#f7f7f7;border:1px solid #d6d6d6"></div>
<div class="t r" style="left:378px;width:96px;top:511px;font-size:10.6px;color:#333">102 MB</div>
<div class="a" style="left:478px;top:505px;width:101px;height:21px;background:#f7f7f7;border:1px solid #d6d6d6"></div>
<div class="t r" style="left:478px;width:96px;top:511px;font-size:10.6px;color:#333">88 MB</div>
<div class="a" style="left:578px;top:505px;width:101px;height:21px;background:#f7f7f7;border:1px solid #d6d6d6"></div>
<div class="t r" style="left:578px;width:96px;top:511px;font-size:10.6px;color:#333">88 MB</div>
<div class="a" style="left:678px;top:505px;width:101px;height:21px;background:#f7f7f7;border:1px solid #d6d6d6"></div>
<div class="t r" style="left:678px;width:96px;top:511px;font-size:10.6px;color:#333">278 MB</div>
<div class="a" style="left:379px;top:386px;width:99px;height:19px;border:1px dotted #333"></div>
<div class="a" style="left:1194px;top:266px;width:17px;height:269px;background:#ececec"></div>
<div class="a" style="left:1194px;top:366px;width:17px;height:153px;background:#c6c6c6"></div>
<svg style="left:1198px;top:270px" width="9" height="6" viewBox="0 0 9 6"><path d="M1 5L4.5 1.5L8 5" fill="none" stroke="#666" stroke-width="2"/></svg>
<svg style="left:1198px;top:525px" width="9" height="6" viewBox="0 0 9 6"><path d="M1 1L4.5 4.5L8 1" fill="none" stroke="#666" stroke-width="2"/></svg>
<!-- ===== CHART ===== -->
<div class="a" style="left:277px;top:542px;width:936px;height:196px;border:1px solid #c6c6c6;background:#f5f5f5"></div>
<div class="t" style="left:290px;top:553px;font-size:13.8px;color:#444">Chart</div>
<svg style="left:1192px;top:556px" width="8" height="9" viewBox="0 0 8 9">
  <rect x="1.5" y="0.5" width="4" height="5" fill="#6a6a6a" stroke="#6a6a6a"/>
  <rect x="2" y="1" width="1" height="4" fill="#e8e8e8"/>
  <rect x="0" y="5" width="7" height="1.2" fill="#6a6a6a"/>
  <rect x="3" y="6" width="1" height="2.5" fill="#6a6a6a"/>
</svg>
<div class="a" style="left:279px;top:578px;width:932px;height:158px;border:1px solid #d0d0d0;background:#fff"></div>
<div class="a" style="left:322px;top:589px;width:812px;height:134px;border:1px solid #a8a8a8;border-bottom:none;background:#fff"></div>
<div class="a" style="left:323px;top:600px;width:810px;height:1px;background:#d9d9d9"></div>
<div class="a" style="left:323px;top:661px;width:810px;height:1px;background:#d9d9d9"></div>
<div class="a" style="left:317px;top:722px;width:817px;height:1px;background:#9a9a9a"></div>
<div class="a" style="left:317px;top:600px;width:5px;height:1px;background:#9a9a9a"></div>
<div class="a" style="left:317px;top:661px;width:5px;height:1px;background:#9a9a9a"></div>
<div class="a" style="left:319px;top:609px;width:3px;height:1px;background:#9a9a9a"></div>
<div class="a" style="left:319px;top:625px;width:3px;height:1px;background:#9a9a9a"></div>
<div class="a" style="left:319px;top:672px;width:3px;height:1px;background:#9a9a9a"></div>
<div class="a" style="left:319px;top:690px;width:3px;height:1px;background:#9a9a9a"></div>
<div class="t r" style="left:270px;width:40px;top:595px;font-size:10.6px;color:#444">10 M</div>
<div class="t r" style="left:270px;width:40px;top:656px;font-size:10.6px;color:#444">1 M</div>
<div class="t r" style="left:270px;width:40px;top:717px;font-size:10.6px;color:#444">0</div>
<div class="a" style="left:374px;top:620px;width:55px;height:102px;background:#5b9bd5;border:1px solid #4a88c2;border-bottom:none"></div>
<div class="a" style="left:378px;top:663px;width:48px;height:16px;background:#fff;border:1px solid #4a88c2;font-size:11px;line-height:14px;text-align:center;color:#4a7fc0">4759887</div>
<div class="a" style="left:430px;top:628px;width:55px;height:94px;background:#ed7d31;border:1px solid #d8692a;border-bottom:none"></div>
<div class="a" style="left:434px;top:667px;width:48px;height:16px;background:#fff;border:1px solid #d8692a;font-size:11px;line-height:14px;text-align:center;color:#d0661f">3450384</div>
<div class="a" style="left:644px;top:624px;width:55px;height:98px;background:#5b9bd5;border:1px solid #4a88c2;border-bottom:none"></div>
<div class="a" style="left:648px;top:665px;width:48px;height:16px;background:#fff;border:1px solid #4a88c2;font-size:11px;line-height:14px;text-align:center;color:#4a7fc0">4067591</div>
<div class="a" style="left:700px;top:626px;width:56px;height:96px;background:#ed7d31;border:1px solid #d8692a;border-bottom:none"></div>
<div class="a" style="left:704px;top:666px;width:48px;height:16px;background:#fff;border:1px solid #d8692a;font-size:11px;line-height:14px;text-align:center;color:#d0661f">3761238</div>
<div class="a" style="left:757px;top:609px;width:55px;height:113px;background:#a5a5a5;border:1px solid #949494;border-bottom:none"></div>
<div class="a" style="left:760px;top:658px;width:48px;height:16px;background:#fff;border:1px solid #949494;font-size:11px;line-height:14px;text-align:center;color:#888">7125339</div>
<div class="a" style="left:915px;top:614px;width:55px;height:108px;background:#5b9bd5;border:1px solid #4a88c2;border-bottom:none"></div>
<div class="a" style="left:918px;top:660px;width:48px;height:16px;background:#fff;border:1px solid #4a88c2;font-size:11px;line-height:14px;text-align:center;color:#4a7fc0">5963291</div>
<div class="a" style="left:971px;top:617px;width:55px;height:105px;background:#ed7d31;border:1px solid #d8692a;border-bottom:none"></div>
<div class="a" style="left:974px;top:662px;width:48px;height:16px;background:#fff;border:1px solid #d8692a;font-size:11px;line-height:14px;text-align:center;color:#d0661f">5302324</div>
<div class="a" style="left:1027px;top:601px;width:55px;height:121px;background:#a5a5a5;border:1px solid #949494;border-bottom:none"></div>
<div class="a" style="left:1030px;top:654px;width:48px;height:16px;background:#fff;border:1px solid #949494;font-size:11px;line-height:14px;text-align:center;color:#888">9716859</div>
<div class="a" style="left:1144px;top:589px;width:56px;height:58px;background:#fff;border:1px solid #c8c8c8"></div>
<div class="a" style="left:1148px;top:593px;width:18px;height:14px;background:#5b9bd5;border:1px solid #4a88c2"></div>
<div class="t" style="left:1171px;top:595px;font-size:11.2px;color:#444">2014</div>
<div class="a" style="left:1148px;top:611px;width:18px;height:14px;background:#ed7d31;border:1px solid #d8692a"></div>
<div class="t" style="left:1171px;top:613px;font-size:11.2px;color:#444">2015</div>
<div class="a" style="left:1148px;top:629px;width:18px;height:14px;background:#a5a5a5;border:1px solid #949494"></div>
<div class="t" style="left:1171px;top:631px;font-size:11.2px;color:#444">2016</div>
<!-- ===== STATUS BAR ===== -->
<div class="a" style="left:0;top:743px;width:1220px;height:24px;background:#1c4587"></div>
<div class="a" style="left:0;top:766px;width:1220px;height:1px;background:#163a70"></div>
<div class="t" style="left:8px;top:750px;font-size:10.9px;color:#fff">Record Count:</div>
<div class="t" style="left:98px;top:750px;font-size:10.9px;color:#fff">12,054</div>
<svg style="left:1209px;top:756px" width="9" height="9" viewBox="0 0 9 9">
  <rect x="6" y="0" width="2" height="2" fill="#e8dcc0"/>
  <rect x="3" y="3" width="2" height="2" fill="#e8dcc0"/><rect x="6" y="3" width="2" height="2" fill="#e8dcc0"/>
  <rect x="0" y="6" width="2" height="2" fill="#e8dcc0"/><rect x="3" y="6" width="2" height="2" fill="#e8dcc0"/><rect x="6" y="6" width="2" height="2" fill="#e8dcc0"/>
</svg>
<!-- window border -->
<div class="a" style="left:1px;top:1px;width:1217px;height:1px;background:#fff"></div>
<div class="a" style="left:1px;top:1px;width:1px;height:31px;background:#fff"></div>
<div class="a" style="left:1px;top:54px;width:1px;height:689px;background:#fff"></div>
<div class="a" style="left:1217px;top:1px;width:1px;height:31px;background:#fff"></div>
<div class="a" style="left:0;top:0;width:1219px;height:767px;border:1px solid #1e3d73;border-bottom:none;pointer-events:none"></div>
<div class="a" style="left:1219px;top:0;width:1px;height:767px;background:#fff"></div>
</body></html>
